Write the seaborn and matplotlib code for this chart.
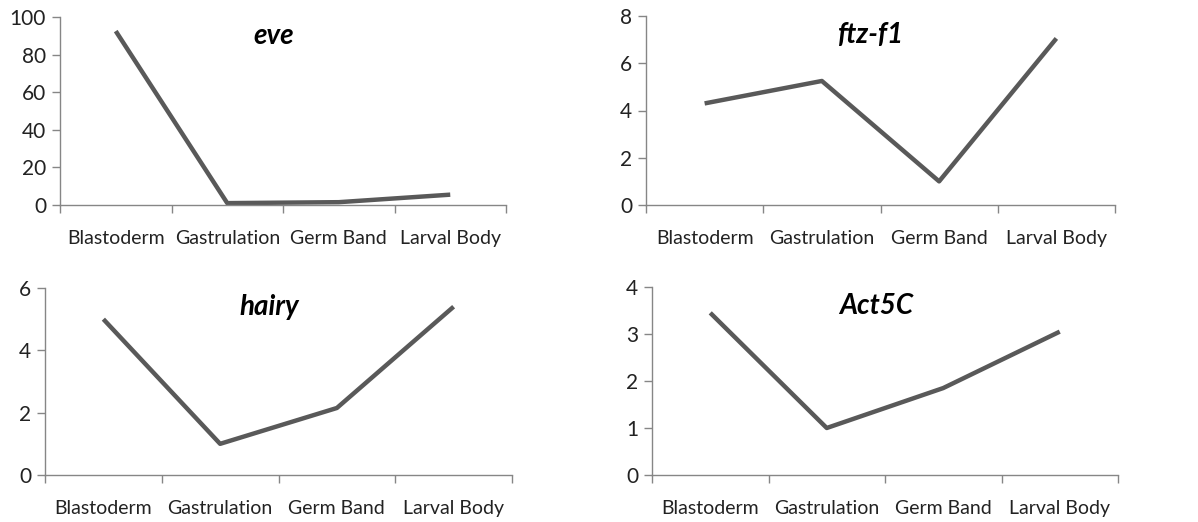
import pandas as pd
import numpy as np
import matplotlib.pyplot as plt
import seaborn as sns

# Données
stages = ['Blastoderm', 'Gastrulation', 'Germ Band', 'Larval Body']
eve = [92.5, 1.0, 1.5, 5.5]
ftz_f1 = [4.3, 5.25, 1.0, 7.05]
hairy = [5.0, 1.0, 2.15, 5.4]
act5c = [3.45, 1.0, 1.85, 3.05]

genes = ['eve', 'ftz-f1', 'hairy', 'Act5C']
values = [eve, ftz_f1, hairy, act5c]
y_max = [100, 8, 6, 4]
y_step = [20, 2, 2, 1]

sns.set_style('white')
plt.rcParams['font.family'] = ['Lato', 'DejaVu Sans']

LINE = '#595959'
AXIS = '#868686'

fig = plt.figure(figsize=(11.98, 5.22), dpi=100)
W, H = 1198, 522
# positions des axes en pixels (gauche, bas, droite, haut)
boxes = [(60, 205, 506, 17), (646, 205, 1115, 16),
         (45, 475, 512, 288), (652, 475, 1118, 287)]

for gene, vals, ym, ys, (x0, y0, x1, y1) in zip(genes, values, y_max, y_step, boxes):
    ax = fig.add_axes([x0 / W, 1 - y0 / H, (x1 - x0) / W, (y0 - y1) / H])
    df = pd.DataFrame({'stage': stages, 'value': vals})
    sns.lineplot(data=df, x='stage', y='value', ax=ax, color=LINE, lw=3.2,
                 sort=False, solid_capstyle='butt')

    ax.set_xlim(-0.5, len(stages) - 0.5)
    ax.set_ylim(0, ym)
    ax.set_yticks(np.arange(0, ym + ys / 2, ys))
    # graduations entre les catégories, style Excel
    ax.set_xticks(np.arange(-0.5, len(stages), 1.0))
    ax.set_xticklabels([])
    ax.set_xticks(range(len(stages)), minor=True)
    ax.set_xticklabels(stages, minor=True)
    ax.tick_params(axis='x', which='major', direction='out', length=6,
                   color=AXIS, width=1, bottom=True)
    ax.tick_params(axis='x', which='minor', length=0, pad=18,
                   labelsize=14, labelcolor='#222222')
    ax.tick_params(axis='y', direction='out', length=6, color=AXIS, width=1,
                   left=True, labelsize=15, labelcolor='#222222', pad=4)

    for side in ['top', 'right']:
        ax.spines[side].set_visible(False)
    for side in ['left', 'bottom']:
        ax.spines[side].set_color(AXIS)
        ax.spines[side].set_linewidth(1)

    ax.set_xlabel('')
    ax.set_ylabel('')
    ax.text(0.48, 0.97, gene, transform=ax.transAxes, ha='center', va='top',
            fontsize=20, fontweight='bold', fontstyle='italic', color='black')

plt.savefig('out.png', dpi=100)
